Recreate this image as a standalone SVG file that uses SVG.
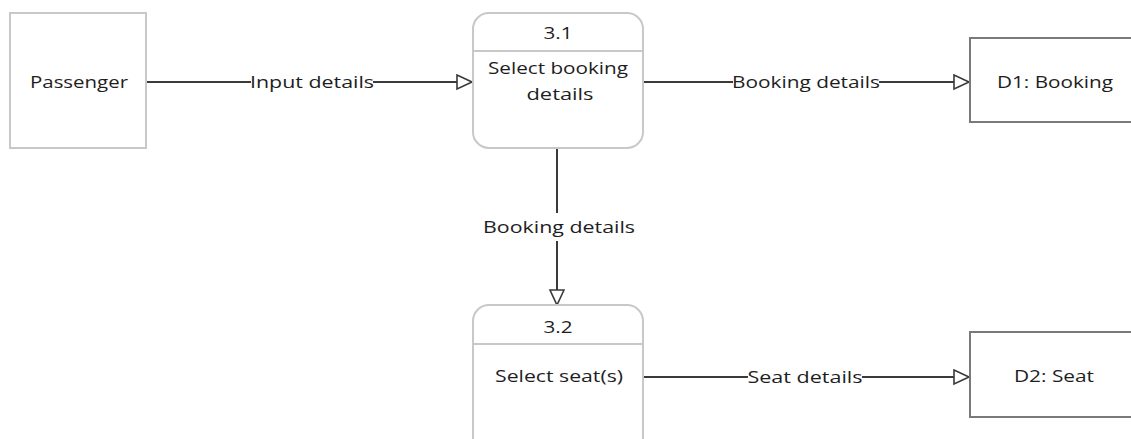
<svg xmlns="http://www.w3.org/2000/svg" width="1131" height="439" viewBox="0 0 1131 439">
<style>
  .ext { fill: #ffffff; stroke: #c8c8c8; stroke-width: 2; }
  .proc { fill: #ffffff; stroke: #c8c8c8; stroke-width: 2; }
  .div { stroke: #c8c8c8; stroke-width: 2; fill: none; }
  .store { fill: none; stroke: #7a7a7a; stroke-width: 2; }
  .conn { stroke: #3a3a3a; stroke-width: 2; fill: none; }
  .lbl { font-family: "Open Sans", "DejaVu Sans", sans-serif; font-size: 16px; fill: #1e1e1e; text-anchor: middle; }
  .bg { fill: #ffffff; }
</style>
<defs>
  <marker id="arrow" markerUnits="userSpaceOnUse" markerWidth="20" markerHeight="20" refX="16" refY="8" orient="auto">
    <path d="M1,1 L16,8 L1,15 Z" fill="#ffffff" stroke="#3a3a3a" stroke-width="1.6"/>
  </marker>
</defs>
<rect width="1131" height="439" fill="#ffffff"/>

<g id="connectors">
  <g id="c1">
    <line class="conn" x1="146" y1="82" x2="472" y2="82" marker-end="url(#arrow)"/>
    <rect class="bg" x="251" y="72" width="122" height="20"/>
    <text class="lbl" x="312" y="88" textLength="124" lengthAdjust="spacingAndGlyphs">Input details</text>
  </g>
  <g id="c2">
    <line class="conn" x1="643" y1="82" x2="969" y2="82" marker-end="url(#arrow)"/>
    <rect class="bg" x="733" y="72" width="146" height="20"/>
    <text class="lbl" x="806" y="88" textLength="148" lengthAdjust="spacingAndGlyphs">Booking details</text>
  </g>
  <g id="c3">
    <line class="conn" x1="557" y1="148" x2="557" y2="305" marker-end="url(#arrow)"/>
    <rect class="bg" x="482" y="213" width="154" height="28"/>
    <text class="lbl" x="559" y="233" textLength="152" lengthAdjust="spacingAndGlyphs">Booking details</text>
  </g>
  <g id="c4">
    <line class="conn" x1="643" y1="377" x2="969" y2="377" marker-end="url(#arrow)"/>
    <rect class="bg" x="748" y="367" width="114" height="20"/>
    <text class="lbl" x="805" y="383" textLength="115" lengthAdjust="spacingAndGlyphs">Seat details</text>
  </g>
</g>

<g id="passenger">
  <rect class="ext" x="10" y="13" width="136" height="135"/>
  <text class="lbl" x="79" y="88" textLength="98" lengthAdjust="spacingAndGlyphs">Passenger</text>
</g>

<g id="p31">
  <rect class="proc" x="473" y="13" width="170" height="135" rx="16" ry="16"/>
  <line class="div" x1="473" y1="51" x2="643" y2="51"/>
  <text class="lbl" x="558" y="39" textLength="29" lengthAdjust="spacingAndGlyphs">3.1</text>
  <text class="lbl" x="558" y="74" textLength="140" lengthAdjust="spacingAndGlyphs">Select booking</text>
  <text class="lbl" x="560" y="100" textLength="67" lengthAdjust="spacingAndGlyphs">details</text>
</g>

<g id="d1">
  <path class="store" d="M1131,38 L970,38 L970,122 L1131,122"/>
  <text class="lbl" x="1055" y="88" textLength="116" lengthAdjust="spacingAndGlyphs">D1: Booking</text>
</g>

<g id="p32">
  <rect class="proc" x="473" y="305" width="170" height="150" rx="16" ry="16"/>
  <line class="div" x1="473" y1="344" x2="643" y2="344"/>
  <text class="lbl" x="558" y="333" textLength="29" lengthAdjust="spacingAndGlyphs">3.2</text>
  <text class="lbl" x="559" y="382" textLength="128" lengthAdjust="spacingAndGlyphs">Select seat(s)</text>
</g>

<g id="d2">
  <path class="store" d="M1131,332 L970,332 L970,417 L1131,417"/>
  <text class="lbl" x="1054" y="382" textLength="80" lengthAdjust="spacingAndGlyphs">D2: Seat</text>
</g>
</svg>
